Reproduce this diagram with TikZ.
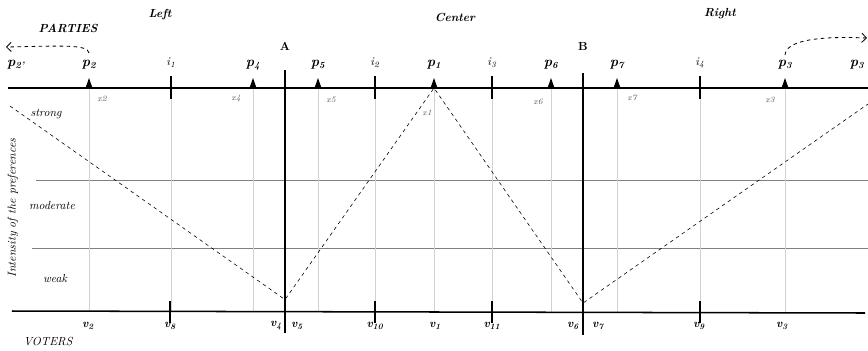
\documentclass[tikz,border=0pt]{standalone}
\usepackage{tikz}
\usetikzlibrary{calc,positioning,arrows.meta}

\tikzset{
  mainline/.style={line width=1.3pt},
  divider/.style={line width=1.9pt},
  guide/.style={gray!35, line width=0.3pt},
  level/.style={gray, line width=0.5pt},
  tickmark/.style={line width=1.3pt},
  partylab/.style={font=\large\bfseries\itshape},
  votelab/.style={font=\bfseries\itshape},
  poslab/.style={font=\scriptsize\itshape, gray!70!black},
  bandlab/.style={font=\itshape},
  headlab/.style={font=\bfseries\itshape},
  movearrow/.style={dashed, line width=0.7pt, -{Straight Barb[length=4pt]}}
}

\begin{document}
\begin{tikzpicture}[x=0.03cm, y=-0.03cm]
        \useasboundingbox (0,0) rectangle (868,350);

        % Intensity bands (subtle)
        \draw[level] (36,180) -- (868,180);
        \draw[level] (32,248) -- (868,248);

        % Guide lines from parties to voters
        \foreach \x in {89,171,253,318,375,434,492,551,617,700,785} {
            \draw[guide] (\x,88) -- (\x,312);
        }

        % Party axis and voter axis
        \draw[mainline] (8,88) -- (868,88);
        \draw[mainline] (12,311) -- (865,313);

        % Dividers
        \draw[divider] (285,70) -- (285,333) coordinate[pos=0.873] (A);
        \draw[divider] (583,73) -- (583,335) coordinate[pos=0.878] (B);
        \node[font=\bfseries] (labA) at (285,46) {A};
        \node[font=\bfseries] (labB) at (583,46) {B};

        % Parties
        \foreach \name/\x/\n in {p2/89/2, p4/253/4, p5/318/5, p1/434/1, p6/551/6, p7/617/7, p3/785/3} {
            \fill (\x-3.5,88) -- (\x+3.5,88) -- (\x,78) -- cycle;
            \coordinate (\name) at (\x,88);
            \node[partylab] (lab\name) at (\x,65) {p\textsubscript{\n}};
        }
        \node[partylab] (labp2b) at (16,65) {p\textsubscript{2'}};
        \node[partylab] (labp3b) at (857,65) {p\textsubscript{3}};

        % Indifference points
        \foreach \name/\x/\n in {i1/171/1, i2/375/2, i3/492/3, i4/700/4} {
            \draw[tickmark] (\x,76) -- (\x,99);
            \node[font=\itshape] (lab\name) at (\x,63) {i\textsubscript{\n}};
        }

        % Party positions
        \node[poslab] at (102,99) {x2};
        \node[poslab] at (236,99) {x4};
        \node[poslab] at (331,100) {x5};
        \node[poslab] at (427,113) {x1};
        \node[poslab] at (538,102) {x6};
        \node[poslab] at (632,98) {x7};
        \node[poslab] at (770,100) {x3};

        % Voter ticks
        \foreach \x in {170,375,492,700} {
            \draw[tickmark] (\x,301) -- (\x,323);
        }

        % Voters
        \foreach \x/\n in {88/2, 170/8, 276/4, 297/5, 375/10, 435/1, 492/11, 573/6, 598/7, 699/9, 782/3} {
            \node[votelab] (v\n) at (\x,326) {v\textsubscript{\n}};
        }

        % Preference profile
        \coordinate (left) at (10,106);
        \coordinate (right) at (868,104);
        \draw[dashed, line width=0.5pt] (left) -- (A) -- (p1) -- (B) -- (right);

        % Band labels
        \node[bandlab] (strong) at (46,114) {strong};
        \node[bandlab] (moderate) at (52,205) {moderate};
        \node[bandlab] (weak) at (55,278) {weak};
        \node[bandlab, rotate=90] (intensity) at (13,208) {Intensity of the preferences};

        % Movements of parties
        \coordinate (outl) at (6,47);
        \coordinate (outr) at (867,38);
        \draw[movearrow] ($(p2)+(0,-35)$) .. controls (88,44) and (60,46) .. (outl);
        \draw[movearrow] ($(p3)+(0,-33)$) .. controls (786,40) and (820,36) .. (outr);

        % Titles
        \node[headlab] (leftt) at (160,15) {Left};
        \node[headlab] (center) at (455,17) {Center};
        \node[headlab] (rightt) at (720,14) {Right};
        \node[headlab] (parties) at (68,28) {PARTIES};
        \node[font=\itshape] (voters) at (48,341) {VOTERS};
    \end{tikzpicture}
\end{document}
